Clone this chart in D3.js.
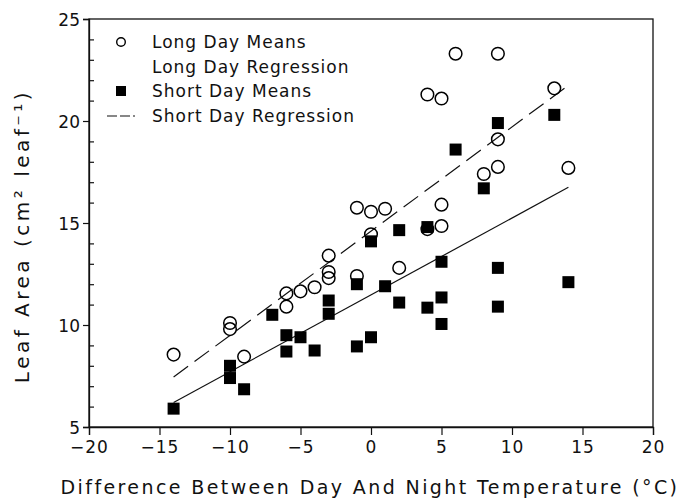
<!DOCTYPE html>
<html>
<head>
<meta charset="utf-8">
<script src="https://cdn.jsdelivr.net/npm/d3@7"></script>
<style>
  body { margin: 0; background: #fff; }
  text { font-family: "DejaVu Sans", sans-serif; fill: #111; }
</style>
</head>
<body>
<div id="chart"></div>
<script>
const WIDTH = 681;
const HEIGHT = 502;
const margin = { top: 19, right: 28, bottom: 75, left: 89 };

// long day means (circles)
const longX = [-14, -10, -10, -9, -6, -6, -5, -4, -3, -3, -3, -1, -1, 0, 0, 1, 2, 4, 4, 5, 5, 5, 6, 8, 9, 9, 9, 13, 14];
const longY = [8.55, 10.1, 9.8, 8.45, 11.55, 10.9, 11.65, 11.85, 13.4, 12.6, 12.3, 15.75, 12.4, 15.55, 14.45, 15.7, 12.8, 21.3, 14.7, 21.1, 15.9, 14.85, 23.3, 17.4, 23.3, 19.1, 17.75, 21.6, 17.7];

// short day means (squares)
const shortX = [-14, -10, -10, -9, -7, -6, -6, -5, -4, -3, -3, -1, -1, 0, 0, 1, 2, 2, 4, 4, 5, 5, 5, 6, 8, 9, 9, 9, 13, 14];
const shortY = [5.9, 8.0, 7.4, 6.85, 10.5, 9.5, 8.7, 9.4, 8.75, 11.2, 10.55, 12.0, 8.95, 14.1, 9.4, 11.9, 14.65, 11.1, 14.8, 10.85, 13.1, 11.35, 10.05, 18.6, 16.7, 19.9, 12.8, 10.9, 20.3, 12.1];

// regression line end points
const regX = [-14, 14];
const longRegY = [7.45, 21.75];
const shortRegY = [6.2, 16.75];

const xTicks = [-20, -15, -10, -5, 0, 5, 10, 15, 20];
const yTicks = [5, 10, 15, 20, 25];
const legendLabels = ["Long Day Means", "Long Day Regression", "Short Day Means", "Short Day Regression"];

const svg = d3.select("#chart").append("svg").attr("width", WIDTH).attr("height", HEIGHT);
const w = WIDTH - margin.left - margin.right;
const h = HEIGHT - margin.top - margin.bottom;
const g = svg.append("g").attr("transform", "translate(" + margin.left + "," + margin.top + ")");

const x = d3.scaleLinear().domain([-20, 20]).range([0, w]);
const y = d3.scaleLinear().domain([5, 25]).range([h, 0]);

// frame
g.append("rect").attr("width", w).attr("height", h)
  .attr("fill", "none").attr("stroke", "#111").attr("stroke-width", 1.3);

// axes
const xAxis = g.append("g").attr("transform", "translate(0," + h + ")")
  .call(d3.axisBottom(x).tickValues(xTicks).tickSize(8).tickPadding(6).tickFormat(d => d < 0 ? "\u2212" + Math.abs(d) : d));
const yAxis = g.append("g")
  .call(d3.axisLeft(y).tickValues(yTicks).tickSize(6).tickPadding(3));
// minor ticks on y, pointing inward
g.append("g").call(d3.axisRight(y).tickValues(d3.range(5, 26).filter(v => v % 5 != 0)).tickSize(5).tickFormat(""))
  .select(".domain").remove();

g.selectAll(".domain").attr("stroke", "#111").attr("stroke-width", 1.3);
g.selectAll(".tick line").attr("stroke", "#111").attr("stroke-width", 1.2);
g.selectAll(".tick text").style("font-size", "17px").attr("fill", "#111").style("font-family", "DejaVu Sans, sans-serif");
yAxis.selectAll(".tick text").attr("dy", "0.36em");
xAxis.selectAll(".tick text").style("letter-spacing", "1px");

// regression lines
const line = d3.line().x(d => x(d[0])).y(d => y(d[1]));
g.append("path").datum(regX.map((v, i) => [v, longRegY[i]]))
  .attr("d", line).attr("fill", "none").attr("stroke", "#111").attr("stroke-width", 1.2)
  .attr("stroke-dasharray", "18,8");
g.append("path").datum(regX.map((v, i) => [v, shortRegY[i]]))
  .attr("d", line).attr("fill", "none").attr("stroke", "#111").attr("stroke-width", 1.2);

// points
const sq = 12;
g.selectAll(".sd").data(shortX.map((v, i) => [v, shortY[i]])).join("rect")
  .attr("class", "sd")
  .attr("x", d => x(d[0]) - sq / 2).attr("y", d => y(d[1]) - sq / 2)
  .attr("width", sq).attr("height", sq).attr("fill", "#000");
g.selectAll(".ld").data(longX.map((v, i) => [v, longY[i]])).join("circle")
  .attr("class", "ld")
  .attr("cx", d => x(d[0])).attr("cy", d => y(d[1])).attr("r", 6.3)
  .attr("fill", "none").attr("stroke", "#000").attr("stroke-width", 1.5);

// legend
const legend = svg.append("g");
const rowY = [42, 67, 91, 116];
legend.selectAll("text").data(legendLabels).join("text")
  .attr("x", 152).attr("y", (d, i) => rowY[i]).attr("dy", "0.36em")
  .style("font-size", "17px").style("letter-spacing", "1px")
  .text(d => d);
legend.append("circle").attr("cx", 121).attr("cy", rowY[0]).attr("r", 4.3)
  .attr("fill", "none").attr("stroke", "#000").attr("stroke-width", 1.4);
legend.append("rect").attr("x", 116).attr("y", rowY[2] - 5).attr("width", 10).attr("height", 10).attr("fill", "#000");
legend.append("line").attr("x1", 107).attr("x2", 135).attr("y1", rowY[3]).attr("y2", rowY[3])
  .attr("stroke", "#111").attr("stroke-width", 1.1).attr("stroke-dasharray", "10,3");

// axis titles
svg.append("text").attr("x", 370).attr("y", 494).attr("text-anchor", "middle")
  .style("font-size", "19px").style("letter-spacing", "2.4px")
  .text("Difference Between Day And Night Temperature (\u00b0C)");
svg.append("text").attr("transform", "translate(29,236) rotate(-90)").attr("text-anchor", "middle")
  .style("font-size", "20px").style("letter-spacing", "3.5px")
  .text("Leaf Area (cm\u00b2 leaf\u207b\u00b9)");
</script>
</body>
</html>
